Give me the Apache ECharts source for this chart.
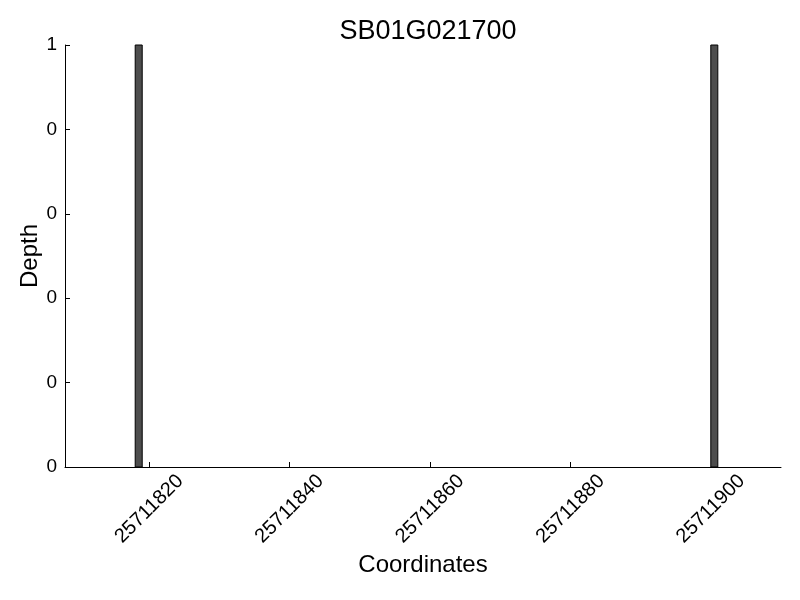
<!DOCTYPE html>
<html>
<head>
<meta charset="utf-8">
<script src="https://cdn.jsdelivr.net/npm/echarts@6/dist/echarts.min.js"></script>
<style>html,body{margin:0;padding:0;background:#fff;}#c{width:800px;height:600px;}</style>
</head>
<body>
<div id="c"></div>
<script>
const titleText = "SB01G021700";
const positions = [25711818, 25711900];
const depths = [1, 1];
const xTicks = [25711820, 25711840, 25711860, 25711880, 25711900];
const xMin = 25711808;
const xMax = 25711910;
const binWidth = 1;

const chart = echarts.init(document.getElementById('c'));
const font = 'Liberation Sans, Arial, Helvetica, sans-serif';
chart.setOption({
  animation: false,
  backgroundColor: '#ffffff',
  title: {
    text: titleText, left: 423, textAlign: 'center', top: 13,
    textStyle: {fontFamily: font, fontSize: 27, fontWeight: 'normal', color: '#000'}
  },
  grid: {left: 65, right: 19, top: 45, bottom: 133},
  xAxis: {
    type: 'value', min: xMin, max: xMax,
    name: 'Coordinates', nameLocation: 'middle', nameGap: 86, nameMoveOverlap: false,
    nameTextStyle: {fontFamily: font, fontSize: 24, color: '#000'},
    axisLine: {show: true, onZero: false, lineStyle: {color: '#000', width: 1}},
    axisTick: {show: true, inside: true, length: 5, customValues: xTicks, lineStyle: {color: '#000'}},
    axisLabel: {
      customValues: xTicks, rotate: 45, margin: 42,
      align: 'center', verticalAlign: 'middle',
      fontFamily: font, fontSize: 20, color: '#000',
      formatter: v => String(v)
    },
    splitLine: {show: false}
  },
  yAxis: {
    type: 'value', min: 0, max: 1, interval: 0.2,
    name: 'Depth', nameLocation: 'middle', nameGap: 23, nameMoveOverlap: false,
    nameTextStyle: {fontFamily: font, fontSize: 24, color: '#000'},
    axisLine: {show: true, lineStyle: {color: '#000', width: 1}},
    axisTick: {show: true, inside: true, length: 5, lineStyle: {color: '#000'}},
    axisLabel: {
      margin: 8, fontFamily: font, fontSize: 19, color: '#000',
      formatter: v => String(Math.trunc(v + 1e-9))
    },
    splitLine: {show: false}
  },
  series: [{
    type: 'custom',
    data: positions.map((p, i) => [p, depths[i]]),
    renderItem: function (params, api) {
      const x = api.value(0);
      const y = api.value(1);
      const p0 = api.coord([x, 0]);
      const p1 = api.coord([x + binWidth, y]);
      return {
        type: 'rect',
        shape: {x: p0[0], y: p1[1], width: p1[0] - p0[0], height: p0[1] - p1[1]},
        style: {fill: '#4d4d4d', stroke: '#000', lineWidth: 1}
      };
    }
  }]
});
</script>
</body>
</html>
